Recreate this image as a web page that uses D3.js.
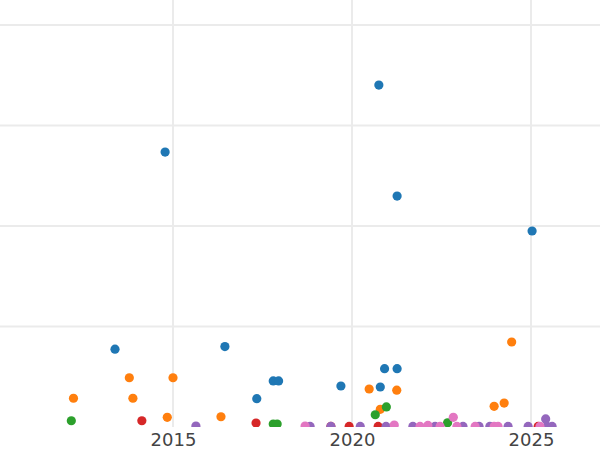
<!DOCTYPE html>
<html>
<head>
<meta charset="utf-8">
<script src="https://cdn.jsdelivr.net/npm/d3@7"></script>
<style>
  html, body { margin: 0; padding: 0; background: #fff; }
  svg { display: block; }
</style>
</head>
<body>
<svg id="chart" width="600" height="450"></svg>
<script>
// ---- data (year, value) per series ----
const seriesNames = ["A", "B", "C", "D", "E", "F"];
const seriesColors = ["#1f77b4", "#ff7f0e", "#2ca02c", "#d62728", "#9467bd", "#e377c2"];

const blueYears  = [2020.75, 2014.78, 2021.26, 2025.03, 2013.38, 2016.45, 2017.34, 2017.80, 2017.95, 2019.69, 2020.79, 2020.91, 2021.26];
const blueValues = [170.1, 136.8, 114.9, 97.5, 38.7, 40.0, 14.1, 22.9, 22.9, 20.4, 19.9, 29.0, 29.0];

const orangeYears  = [2012.22, 2013.78, 2013.88, 2014.84, 2015.00, 2016.34, 2020.48, 2020.79, 2021.25, 2023.97, 2024.25, 2024.46];
const orangeValues = [14.3, 24.5, 14.3, 4.8, 24.5, 5.1, 18.9, 8.8, 18.3, 10.3, 11.9, 42.3];

const greenYears  = [2012.16, 2017.80, 2017.91, 2020.65, 2020.96, 2022.67];
const greenValues = [3.1, 1.5, 1.5, 6.1, 10.0, 2.1];

const redYears  = [2014.13, 2017.32, 2019.41, 2019.92, 2020.73, 2025.20];
const redValues = [3.1, 2.0, 0.3, 0.3, 0.3, 0.3];

const purpleYears  = [2015.64, 2018.83, 2019.41, 2020.23, 2020.95, 2021.70, 2022.32, 2023.10, 2023.55, 2023.85, 2024.36, 2024.92, 2025.41, 2025.45, 2025.59];
const purpleValues = [0.5, 0.3, 0.3, 0.3, 0.3, 0.3, 0.3, 0.3, 0.3, 0.3, 0.3, 0.3, 4.0, 0.3, 0.3];

const pinkYears  = [2018.69, 2021.18, 2021.90, 2022.12, 2022.46, 2022.83, 2022.93, 2023.44, 2023.97, 2024.08, 2025.25];
const pinkValues = [0.5, 1.0, 0.3, 0.8, 0.3, 4.8, 0.3, 0.3, 0.3, 0.3, 0.3];

const xTicks = [2015, 2020, 2025];
const yTicks = [50, 100, 150, 200];

const allSeries = [
  [blueYears, blueValues],
  [orangeYears, orangeValues],
  [greenYears, greenValues],
  [redYears, redValues],
  [purpleYears, purpleValues],
  [pinkYears, pinkValues]
];

// ---- layout ----
const W = 600, H = 450;
const plotTop = 0, plotBottom = 427, plotLeft = 0, plotRight = 600;

const x = d3.scaleLinear().domain([2015, 2025]).range([173, 531]);
const y = d3.scaleLinear().domain([0, 200]).range([427, 25]);

const svg = d3.select("#chart");

svg.append("defs").append("clipPath").attr("id", "plotclip")
  .append("rect")
  .attr("x", plotLeft).attr("y", plotTop)
  .attr("width", plotRight - plotLeft).attr("height", plotBottom - plotTop);

const grid = svg.append("g");
grid.selectAll("line.h").data(yTicks).join("line")
  .attr("class", "h")
  .attr("x1", plotLeft).attr("x2", plotRight)
  .attr("y1", d => y(d)).attr("y2", d => y(d))
  .attr("stroke", "#ebebeb").attr("stroke-width", 2);

grid.selectAll("line.v").data(xTicks).join("line")
  .attr("class", "v")
  .attr("y1", plotTop).attr("y2", plotBottom)
  .attr("x1", d => x(d)).attr("x2", d => x(d))
  .attr("stroke", "#ebebeb").attr("stroke-width", 2);

const pts = svg.append("g").attr("clip-path", "url(#plotclip)");
allSeries.forEach(([ys, vs], i) => {
  const data = ys.map((yr, j) => ({ yr, v: vs[j] }));
  pts.append("g").selectAll("circle").data(data).join("circle")
    .attr("cx", d => x(d.yr))
    .attr("cy", d => y(d.v))
    .attr("r", 4.6)
    .attr("fill", seriesColors[i]);
});

// x axis labels
const xAxis = d3.axisBottom(x).tickValues(xTicks).tickFormat(d3.format("d")).tickSize(0).tickPadding(0);
const ax = svg.append("g").attr("transform", `translate(0, ${plotBottom})`).call(xAxis);
ax.select(".domain").remove();
ax.selectAll("text")
  .attr("dy", null)
  .attr("y", 19)
  .attr("fill", "#444")
  .style("font-family", "'DejaVu Sans', sans-serif")
  .style("font-size", "18px");
</script>
</body>
</html>
